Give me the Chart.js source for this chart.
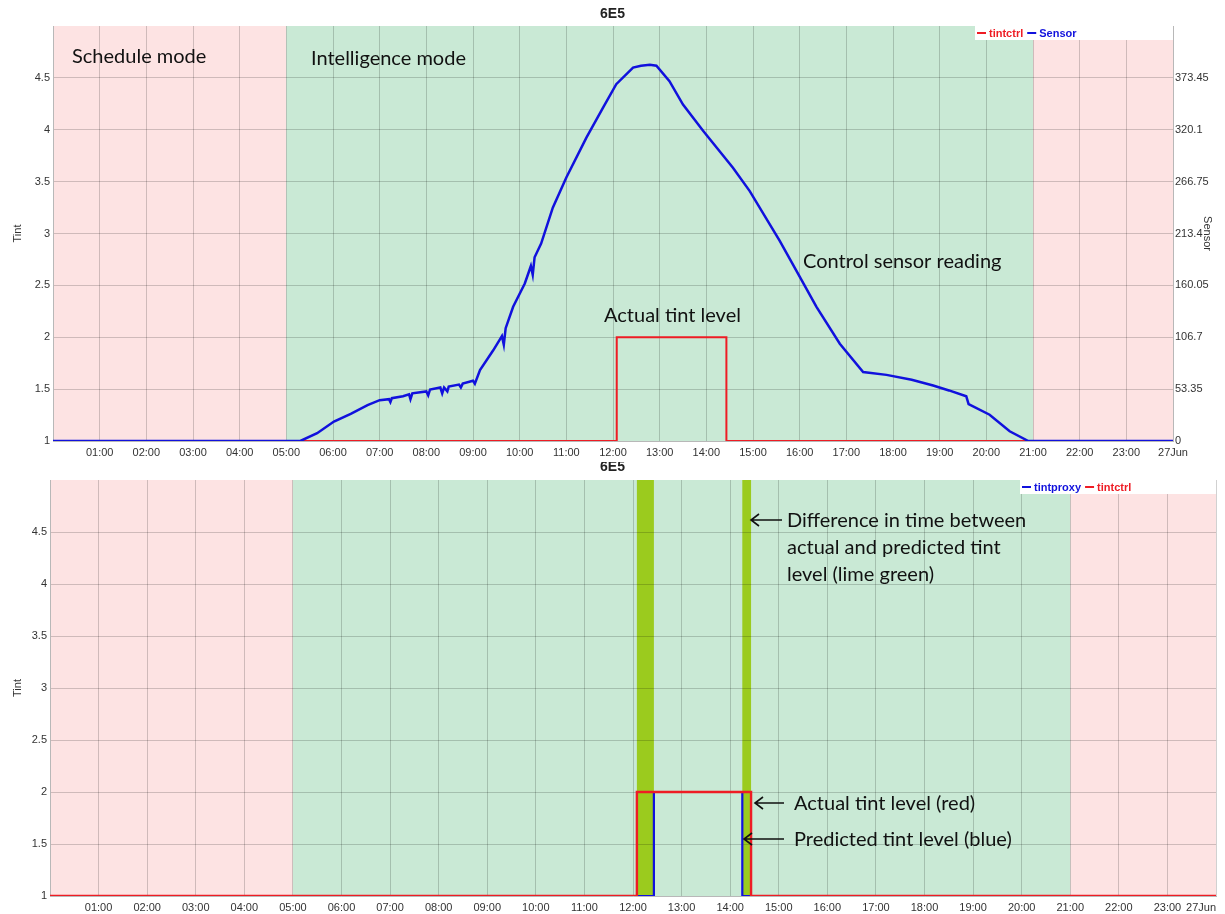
<!DOCTYPE html>
<html>
<head>
<meta charset="utf-8">
<title>6E5</title>
<script src="https://cdn.jsdelivr.net/npm/chart.js@4.4.1/dist/chart.umd.min.js"></script>
<style>
  html, body { margin: 0; padding: 0; background: #fff; }
  .wrap { position: absolute; left: 0; width: 1225px; }
  #topWrap { top: 0; height: 462px; }
  #bottomWrap { top: 462px; height: 452px; }
</style>
</head>
<body>
<div class="wrap" id="topWrap"><canvas id="topChart" width="1225" height="462"></canvas></div>
<div class="wrap" id="bottomWrap"><canvas id="bottomChart" width="1225" height="452"></canvas></div>
<script>
// x axis: hours of 26 Jun, last tick is midnight
const hourLabels = ['01:00','02:00','03:00','04:00','05:00','06:00','07:00','08:00','09:00','10:00','11:00','12:00',
  '13:00','14:00','15:00','16:00','17:00','18:00','19:00','20:00','21:00','22:00','23:00','27Jun'];
const tintTicks = [1, 1.5, 2, 2.5, 3, 3.5, 4, 4.5];
const sensorTicks = [0, 53.35, 106.7, 160.05, 213.4, 266.75, 320.1, 373.45];

const sensorHours = [0, 5.30, 5.66, 6.02, 6.38, 6.74, 7.00, 7.20, 7.23, 7.26, 7.50, 7.63, 7.66, 7.70,
  8.00, 8.04, 8.08, 8.30, 8.34, 8.38, 8.45, 8.48, 8.70, 8.74, 8.78, 9.00, 9.04, 9.15, 9.43,
  9.62, 9.66, 9.70, 9.86, 10.11, 10.24, 10.28, 10.32, 10.46, 10.71, 11.00, 11.43, 11.79,
  12.07, 12.43, 12.60, 12.79, 12.93, 13.21, 13.50, 13.93, 14.57, 14.93, 15.57, 16.00, 16.36,
  16.86, 17.36, 17.86, 18.40, 18.86, 19.20, 19.57, 19.62, 20.07, 20.50, 20.90, 24];
const sensorValues = [0, 0, 8, 20, 28, 37, 42, 43, 40, 44, 46, 48, 43, 49,
  51, 47, 53, 55, 49, 55, 51, 56, 58, 55, 59, 62, 59, 73, 93,
  108, 99, 116, 138, 162, 180, 171, 189, 203, 240, 271, 312, 343,
  367, 384, 386, 387, 386, 370, 346, 319, 281, 257, 206, 169, 138,
  100, 71, 68, 63, 57, 52, 46, 38, 27, 10, 0, 0];

const ctrlHours = [0, 12.08, 14.43, 24];
const ctrlValues = [1, 2, 1, 1];
const proxyHours = [0, 12.43, 14.25, 24];
const proxyValues = [1, 2, 1, 1];

const scheduleBands = [[0, 5], [21, 24]];
const intelligenceBands = [[5, 21]];
const diffBands = [[12.08, 12.43], [14.25, 14.43]];

const RED = '#ee1c24';
const BLUE = '#1111dd';
const AXIS_FONT = { family: "'Liberation Sans', Arial, sans-serif", size: 11 };

const toPoints = (xs, ys) => xs.map((x, i) => ({ x: x, y: ys[i] }));

// background bands behind the grid
const bandsPlugin = {
  id: 'bands',
  beforeDraw(chart, args, opts) {
    const { ctx, chartArea: a, scales: { x } } = chart;
    ctx.save();
    opts.groups.forEach(g => {
      ctx.fillStyle = g.color;
      g.bands.forEach(([from, to]) => {
        const x0 = x.getPixelForValue(from);
        const x1 = x.getPixelForValue(to);
        ctx.fillRect(x0, a.top, x1 - x0, a.bottom - a.top);
      });
    });
    ctx.restore();
  }
};

// title, legend box and the hand written notes
const extrasPlugin = {
  id: 'extras',
  afterDraw(chart, args, opts) {
    const { ctx, chartArea: a } = chart;
    ctx.save();
    ctx.fillStyle = '#222';
    ctx.font = "bold 14px 'Liberation Sans', Arial, sans-serif";
    ctx.textAlign = 'center';
    ctx.textBaseline = 'middle';
    ctx.fillText(opts.title, chart.width / 2, opts.titleY);

    // legend
    const boxLeft = a.right - opts.legendWidth;
    ctx.fillStyle = '#fff';
    ctx.fillRect(boxLeft, a.top, opts.legendWidth, 14);
    ctx.font = "bold 11px 'Liberation Sans', Arial, sans-serif";
    ctx.textAlign = 'left';
    let lx = boxLeft + 2;
    const ly = a.top + 7;
    opts.legendOrder.forEach(i => {
      const ds = chart.data.datasets[i];
      ctx.strokeStyle = ds.borderColor;
      ctx.lineWidth = 2;
      ctx.beginPath();
      ctx.moveTo(lx, ly);
      ctx.lineTo(lx + 9, ly);
      ctx.stroke();
      ctx.fillStyle = ds.borderColor;
      ctx.fillText(ds.label, lx + 12, ly + 0.5);
      lx += 12 + ctx.measureText(ds.label).width + 4;
    });

    // notes
    ctx.fillStyle = '#111';
    ctx.textBaseline = 'alphabetic';
    ctx.font = "20px Lato, 'Open Sans', sans-serif";
    opts.notes.forEach(n => ctx.fillText(n.text, n.x, n.y));

    ctx.strokeStyle = '#111';
    ctx.lineWidth = 1.6;
    opts.arrows.forEach(ar => {
      ctx.beginPath();
      ctx.moveTo(ar.tail, ar.y);
      ctx.lineTo(ar.tip, ar.y);
      ctx.moveTo(ar.tip + 8, ar.y - 6);
      ctx.lineTo(ar.tip, ar.y);
      ctx.lineTo(ar.tip + 8, ar.y + 6);
      ctx.stroke();
    });
    ctx.restore();
  }
};

const gridColor = 'rgba(0,0,0,0.18)';

function xScale(withZero) {
  return {
    type: 'linear',
    min: 0,
    max: 24,
    afterBuildTicks: s => {
      s.ticks = hourLabels.map((_, i) => ({ value: i + 1 }));
      if (withZero) s.ticks.unshift({ value: 0 });
    },
    afterFit: s => { s.height = withZero ? 18 : 21; },
    grid: { color: gridColor, drawTicks: false },
    border: { color: '#b8b8b8' },
    ticks: {
      align: withZero ? 'inner' : 'center',
      autoSkip: false,
      maxRotation: 0,
      padding: 5,
      color: '#333',
      font: AXIS_FONT,
      callback: v => v === 0 ? '' : hourLabels[v - 1]
    }
  };
}

function tintScale(width) {
  return {
    type: 'linear',
    position: 'left',
    min: 1,
    max: 5,
    afterBuildTicks: s => { s.ticks = tintTicks.map(v => ({ value: v })); },
    afterFit: s => { s.width = width; },
    grid: { color: gridColor, drawTicks: false },
    border: { color: '#b8b8b8' },
    title: { display: true, text: 'Tint', color: '#333', font: AXIS_FONT, padding: { top: 11, bottom: 0 } },
    ticks: { color: '#333', font: AXIS_FONT, padding: 3, callback: v => String(v) }
  };
}

document.addEventListener('DOMContentLoaded', () => {

  // TOP CHART
  new Chart(document.getElementById('topChart'), {
    type: 'line',
    data: {
      datasets: [
        {
          label: 'tintctrl',
          data: toPoints(ctrlHours, ctrlValues),
          borderColor: RED,
          borderWidth: 2,
          stepped: true,
          pointRadius: 0,
          yAxisID: 'y',
          order: 1
        },
        {
          label: 'Sensor',
          data: toPoints(sensorHours, sensorValues),
          borderColor: BLUE,
          borderWidth: 2.5,
          pointRadius: 0,
          tension: 0,
          yAxisID: 'y2',
          order: 0
        }
      ]
    },
    options: {
      responsive: false,
      animation: false,
      events: [],
      layout: { padding: { top: 26, left: 0, right: 0, bottom: 0 } },
      plugins: {
        legend: { display: false },
        title: { display: false },
        tooltip: { enabled: false },
        bands: {
          groups: [
            { color: '#fde3e3', bands: scheduleBands },
            { color: '#c9e9d5', bands: intelligenceBands }
          ]
        },
        extras: {
          title: '6E5',
          titleY: 14,
          legendWidth: 198,
          legendOrder: [0, 1],
          notes: [
            { text: 'Schedule mode', x: 72, y: 63 },
            { text: 'Intelligence mode', x: 311, y: 65 },
            { text: 'Control sensor reading', x: 803, y: 268 },
            { text: 'Actual tint level', x: 604, y: 322 }
          ],
          arrows: []
        }
      },
      scales: {
        x: xScale(false),
        y: tintScale(53),
        y2: {
          type: 'linear',
          position: 'right',
          min: 0,
          max: 426.8,
          afterBuildTicks: s => { s.ticks = sensorTicks.map(v => ({ value: v })); },
          afterFit: s => { s.width = 52; },
          grid: { drawOnChartArea: false, drawTicks: false },
          border: { color: '#b8b8b8' },
          title: { display: true, text: 'Sensor', color: '#333', font: AXIS_FONT, padding: { top: 11, bottom: 0 } },
          ticks: { color: '#333', font: AXIS_FONT, padding: 2, callback: v => String(v) }
        }
      }
    },
    plugins: [bandsPlugin, extrasPlugin]
  });

  // BOTTOM CHART
  new Chart(document.getElementById('bottomChart'), {
    type: 'line',
    data: {
      datasets: [
        {
          label: 'tintproxy',
          data: toPoints(proxyHours, proxyValues),
          borderColor: BLUE,
          borderWidth: 2.2,
          stepped: true,
          pointRadius: 0,
          order: 1
        },
        {
          label: 'tintctrl',
          data: toPoints(ctrlHours, ctrlValues),
          borderColor: RED,
          borderWidth: 2.4,
          stepped: true,
          pointRadius: 0,
          order: 0
        }
      ]
    },
    options: {
      responsive: false,
      animation: false,
      events: [],
      layout: { padding: { top: 18, left: 0, right: 9, bottom: 0 } },
      plugins: {
        legend: { display: false },
        title: { display: false },
        tooltip: { enabled: false },
        bands: {
          groups: [
            { color: '#fde3e3', bands: scheduleBands },
            { color: '#c9e9d5', bands: intelligenceBands },
            { color: '#9bcb1e', bands: diffBands }
          ]
        },
        extras: {
          title: '6E5',
          titleY: 5,
          legendWidth: 196,
          legendOrder: [0, 1],
          notes: [
            { text: 'Difference in time between', x: 787, y: 65 },
            { text: 'actual and predicted tint', x: 787, y: 92 },
            { text: 'level (lime green)', x: 787, y: 119 },
            { text: 'Actual tint level (red)', x: 794, y: 348 },
            { text: 'Predicted tint level (blue)', x: 794, y: 384 }
          ],
          arrows: [
            { tip: 751, tail: 782, y: 58 },
            { tip: 755, tail: 784, y: 341 },
            { tip: 744, tail: 784, y: 377 }
          ]
        }
      },
      scales: {
        x: xScale(true),
        y: tintScale(50)
      }
    },
    plugins: [bandsPlugin, extrasPlugin]
  });
});
</script>
</body>
</html>
